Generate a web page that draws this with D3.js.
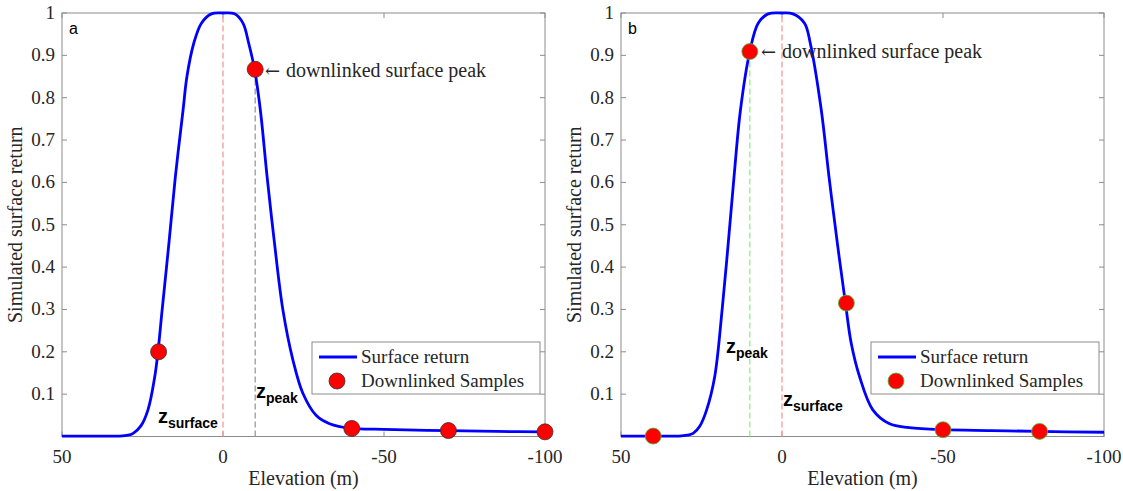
<!DOCTYPE html>
<html>
<head>
<meta charset="utf-8">
<script src="https://cdn.jsdelivr.net/npm/d3@7"></script>
<style>
  body { margin: 0; background: #fff; }
  svg text { font-family: "Liberation Serif", "Times New Roman", serif; fill: #262626; }
</style>
</head>
<body>
<div id="chart"></div>
<script>
// panel a: surface return curve
var elevA = [50, 40, 32, 29.5, 27.9, 25.5, 23.3, 21.2, 20.2, 18.9, 16.8, 14.8, 12.4, 11.2, 9.1, 6.7, 3.6, 0, -3.6, -6.2, -8.0, -9.8, -11.6, -13.7, -16.0, -18.6, -21.7, -24.8, -28.9, -33.1, -39.7, -50, -60, -70, -85, -100];
var returnA = [0.001, 0.001, 0.001, 0.003, 0.0075, 0.025, 0.063, 0.141, 0.2, 0.299, 0.456, 0.613, 0.771, 0.85, 0.928, 0.976, 0.998, 1.0, 0.998, 0.976, 0.928, 0.867, 0.771, 0.613, 0.456, 0.299, 0.181, 0.102, 0.05, 0.03, 0.019, 0.017, 0.015, 0.014, 0.012, 0.011];
var sampleElevA = [20, -10, -40, -70, -100];
var sampleA = [0.2, 0.867, 0.019, 0.014, 0.011];

// panel b
var elevB = [50, 40, 32, 29.5, 27.6, 25.5, 23.4, 20.9, 18.6, 16.7, 14.9, 12.9, 10, 7.4, 4.3, 0, -3.4, -7.0, -8.8, -12.2, -14.6, -17.2, -19.7, -21.5, -24.1, -28.2, -33.4, -39.5, -50, -65, -80, -100];
var returnB = [0.001, 0.001, 0.001, 0.003, 0.0075, 0.025, 0.063, 0.141, 0.299, 0.456, 0.613, 0.771, 0.909, 0.976, 0.998, 1.0, 0.998, 0.976, 0.928, 0.771, 0.613, 0.456, 0.315, 0.22, 0.141, 0.063, 0.03, 0.021, 0.016, 0.014, 0.012, 0.010];
var sampleElevB = [40, 10, -20, -50, -80];
var sampleB = [0.001, 0.909, 0.315, 0.016, 0.012];

var xTicks = [50, 0, -50, -100];
var yTicks = [0.1, 0.2, 0.3, 0.4, 0.5, 0.6, 0.7, 0.8, 0.9, 1];

var W = 1123, H = 491;
var svg = d3.select("#chart").append("svg")
    .attr("width", W)
    .attr("height", H);

var panels = [
    {left: 62, right: 545, letter: "a", elev: elevA, ret: returnA, sx: sampleElevA, sy: sampleA,
     markerStroke: "#333", peak: -10, peakVal: 0.867, peakColor: "#9a9a9a",
     zPeak: [256, 398], zSurf: [158, 423], note: [265, 71]},
    {left: 621, right: 1104, letter: "b", elev: elevB, ret: returnB, sx: sampleElevB, sy: sampleB,
     markerStroke: "#3fc43f", peak: 10, peakVal: 0.909, peakColor: "#8ef08e",
     zPeak: [726, 353], zSurf: [783, 406], note: [761, 52]}
];

var plotTop = 13, plotBottom = 436.5;

panels.forEach(function (p) {
    var x = d3.scaleLinear().domain([50, -100]).range([p.left, p.right]);
    var y = d3.scaleLinear().domain([0, 1]).range([plotBottom, plotTop]);
    var g = svg.append("g");

    // box
    g.append("rect")
        .attr("x", p.left).attr("y", plotTop)
        .attr("width", p.right - p.left).attr("height", plotBottom - plotTop)
        .attr("fill", "none").attr("stroke", "#8c8c8c").attr("stroke-width", 1);

    // ticks (inward, all four sides)
    xTicks.forEach(function (t) {
        g.append("line").attr("x1", x(t)).attr("x2", x(t)).attr("y1", plotBottom).attr("y2", plotBottom - 5)
            .attr("stroke", "#8c8c8c");
        g.append("line").attr("x1", x(t)).attr("x2", x(t)).attr("y1", plotTop).attr("y2", plotTop + 5)
            .attr("stroke", "#8c8c8c");
        g.append("text").attr("x", x(t)).attr("y", 463)
            .attr("text-anchor", "middle").style("font-size", "19px").text(t);
    });
    yTicks.forEach(function (t) {
        g.append("line").attr("x1", p.left).attr("x2", p.left + 5).attr("y1", y(t)).attr("y2", y(t))
            .attr("stroke", "#8c8c8c");
        g.append("line").attr("x1", p.right).attr("x2", p.right - 5).attr("y1", y(t)).attr("y2", y(t))
            .attr("stroke", "#8c8c8c");
        g.append("text").attr("x", p.left - 7).attr("y", y(t) + 6)
            .attr("text-anchor", "end").style("font-size", "19px").text(t);
    });

    // axis labels
    g.append("text").attr("x", (p.left + p.right) / 2).attr("y", 485)
        .attr("text-anchor", "middle").style("font-size", "20px").text("Elevation (m)");
    g.append("text")
        .attr("transform", "translate(" + (p.left - 40) + "," + ((plotTop + plotBottom) / 2) + ") rotate(-90)")
        .attr("text-anchor", "middle").style("font-size", "20px").text("Simulated surface return");

    // dashed reference lines
    g.append("line").attr("x1", x(0)).attr("x2", x(0)).attr("y1", plotBottom).attr("y2", plotTop)
        .attr("stroke", "#f59a9a").attr("stroke-width", 1.3).attr("stroke-dasharray", "6,3");
    g.append("line").attr("x1", x(p.peak)).attr("x2", x(p.peak)).attr("y1", plotBottom).attr("y2", y(p.peakVal))
        .attr("stroke", p.peakColor).attr("stroke-width", 1.3).attr("stroke-dasharray", "6,3");

    // curve
    var line = d3.line()
        .x(function (d, i) { return x(p.elev[i]); })
        .y(function (d) { return y(d); })
        .curve(d3.curveCatmullRom.alpha(0.5));
    g.append("path").datum(p.ret)
        .attr("d", line)
        .attr("fill", "none").attr("stroke", "#0000ff").attr("stroke-width", 2.8);

    // samples
    g.selectAll("circle.s").data(p.sy).enter().append("circle")
        .attr("cx", function (d, i) { return x(p.sx[i]); })
        .attr("cy", function (d) { return y(d); })
        .attr("r", 8)
        .attr("fill", "#ff0000").attr("stroke", p.markerStroke).attr("stroke-width", 0.8);

    // panel letter
    g.append("text").attr("x", p.left + 7).attr("y", plotTop + 21)
        .style("font-family", "Liberation Sans, Arial, sans-serif").style("font-size", "16px")
        .style("fill", "#000").text(p.letter);

    // z labels
    function zLabel(pos, sub) {
        var t = g.append("text").attr("x", pos[0]).attr("y", pos[1])
            .style("font-family", "Liberation Sans, Arial, sans-serif").style("font-weight", "bold")
            .style("fill", "#000");
        t.append("tspan").style("font-size", "20px").text("z");
        t.append("tspan").attr("dy", 5).style("font-size", "14px").text(sub);
    }
    zLabel(p.zPeak, "peak");
    zLabel(p.zSurf, "surface");

    // annotation
    var note = g.append("text").attr("x", p.note[0]).attr("y", p.note[1] + 6)
        .style("font-size", "20px");
    note.append("tspan").style("font-family", "DejaVu Serif, serif").style("font-size", "18px").text("\u2190");
    note.append("tspan").attr("dx", 6).text("downlinked surface peak");

    // legend
    var lx = p.right - 233, ly = 342;
    var leg = g.append("g").attr("transform", "translate(" + lx + "," + ly + ")");
    leg.append("rect").attr("width", 228).attr("height", 52)
        .attr("fill", "#fff").attr("stroke", "#8c8c8c");
    leg.append("line").attr("x1", 7).attr("x2", 45).attr("y1", 15).attr("y2", 15)
        .attr("stroke", "#0000ff").attr("stroke-width", 2.8);
    leg.append("circle").attr("cx", 25).attr("cy", 39).attr("r", 8)
        .attr("fill", "#ff0000").attr("stroke", p.markerStroke).attr("stroke-width", 0.8);
    leg.append("text").attr("x", 49).attr("y", 21).style("font-size", "19px").text("Surface return");
    leg.append("text").attr("x", 49).attr("y", 45).style("font-size", "19px").text("Downlinked Samples");
});
</script>
</body>
</html>
